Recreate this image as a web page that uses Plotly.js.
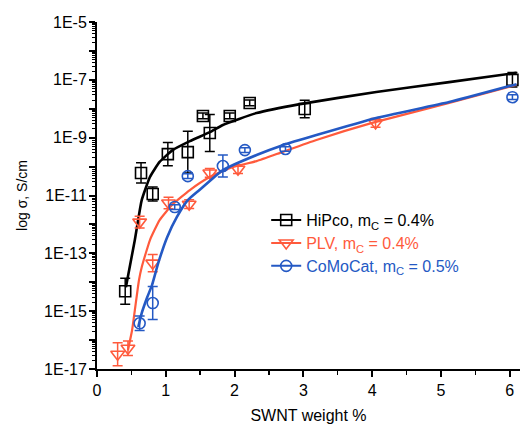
<!DOCTYPE html>
<html>
<head>
<meta charset="utf-8">
<script src="https://cdn.plot.ly/plotly-3.0.1.min.js"></script>
<style>html,body{margin:0;padding:0;background:#fff;}#chart{width:526px;height:424px;}</style>
</head>
<body>
<div id="chart"></div>
<script>
// ---- data (log10 of sigma, S/cm) ----
const hipcoX      = [0.41, 0.64, 0.81, 1.03, 1.32, 1.54, 1.64, 1.93, 2.22, 3.02, 6.04];
const hipcoLog    = [-14.31, -10.22, -10.95, -9.57, -9.50, -8.25, -8.84, -8.25, -7.80, -8.01, -7.00];
const hipcoErrDec = [0.45, 0.35, 0.24, 0.40, 0.72, 0.10, 0.64, 0.10, 0.10, 0.30, 0.25];

const plvX      = [0.30, 0.45, 0.62, 0.81, 1.04, 1.34, 1.64, 2.05, 4.05];
const plvLog    = [-16.49, -16.28, -11.92, -13.34, -11.26, -11.30, -10.22, -10.09, -8.49];
const plvErrDec = [0.40, 0.25, 0.20, 0.30, 0.20, 0.15, 0.15, 0.15, 0.15];

const comoX      = [0.62, 0.81, 1.13, 1.32, 1.83, 2.15, 2.74, 6.04];
const comoLog    = [-15.42, -14.72, -11.40, -10.33, -9.98, -9.43, -9.39, -7.60];
const comoErrDec = [0.25, 0.57, 0.08, 0.08, 0.38, 0.08, 0.08, 0.08];

// fitted curves
const hipcoFitX   = [0.42, 0.55, 0.65, 0.77, 0.91, 1.10, 1.35, 1.64, 1.83, 2.32, 2.95, 4.06, 5.12, 6.10];
const hipcoFitLog = [-14.17, -12.54, -11.16, -10.36, -9.84, -9.43, -9.12, -8.81, -8.56, -8.15, -7.84, -7.42, -7.08, -6.76];

const plvFitX   = [0.45, 0.51, 0.55, 0.61, 0.65, 0.77, 0.91, 1.09, 1.35, 1.64, 1.97, 2.32, 2.70, 3.19, 4.00, 5.12, 6.10];
const plvFitLog = [-16.35, -15.66, -14.97, -13.93, -13.48, -12.54, -11.85, -11.33, -10.81, -10.36, -10.02, -9.81, -9.49, -9.08, -8.49, -7.80, -7.17];

const comoFitX   = [0.60, 0.65, 0.73, 0.80, 0.89, 1.02, 1.16, 1.32, 1.49, 1.83, 2.32, 2.70, 3.19, 4.06, 5.12, 6.10];
const comoFitLog = [-15.55, -15.07, -14.52, -14.10, -13.34, -12.44, -11.75, -11.16, -10.81, -10.12, -9.60, -9.26, -8.91, -8.32, -7.77, -7.15];

const yDecadeExp = [-17, -16, -15, -14, -13, -12, -11, -10, -9, -8, -7, -6, -5];
const yLabelExp  = [-17, -15, -13, -11, -9, -7, -5];
const xTickVals  = [0, 1, 2, 3, 4, 5, 6];

const seriesNames = ['HiPco, m<sub>C</sub> = 0.4%', 'PLV, m<sub>C</sub> = 0.4%', 'CoMoCat, m<sub>C</sub> = 0.5%'];

// ---- helpers ----
const lin = a => a.map(v => Math.pow(10, v));
const errPlus = (l, d) => l.map((v, i) => Math.pow(10, v + d[i]) - Math.pow(10, v));
const errMinus = (l, d) => l.map((v, i) => Math.pow(10, v) - Math.pow(10, v - d[i]));

const BLACK = '#000000', RED = '#ff5a3c', BLUE = '#2459c4';
const FONT = 'Liberation Sans, Arial, Helvetica, sans-serif';

function series(x, log, dec, fx, flog, color, symbol, msize, name, lw, legendId) {
  return [
    { x: x, y: lin(log), type: 'scatter', mode: 'markers', showlegend: false,
      marker: { symbol: symbol, size: msize, color: color, line: { color: color, width: 1.6 } },
      error_y: { type: 'data', symmetric: false, array: errPlus(log, dec), arrayminus: errMinus(log, dec),
                 color: color, thickness: 1.5, width: 5 } },
    { x: fx, y: lin(flog), type: 'scatter', mode: 'lines', showlegend: false,
      line: { color: color, width: lw, shape: 'spline', smoothing: 0.45 } },
    { x: [null], y: [null], type: 'scatter', mode: 'lines+markers', showlegend: true,
      yaxis: 'y2', legend: legendId, name: name,
      marker: { symbol: symbol, size: msize, color: color, line: { color: color, width: 1.6 } },
      line: { color: color, width: 2 } }
  ];
}

const data = [].concat(
  series(hipcoX, hipcoLog, hipcoErrDec, hipcoFitX, hipcoFitLog, BLACK, 'square-open', 11, seriesNames[0], 2.6, 'legend'),
  series(plvX, plvLog, plvErrDec, plvFitX, plvFitLog, RED, 'triangle-down-open', 12, seriesNames[1], 2.2, 'legend2'),
  series(comoX, comoLog, comoErrDec, comoFitX, comoFitLog, BLUE, 'circle-open', 11, seriesNames[2], 2.6, 'legend3')
);

function legendAt(y, color) {
  return { x: 0.40, y: y, xanchor: 'left', yanchor: 'middle', bgcolor: 'rgba(0,0,0,0)',
           font: { family: FONT, size: 16, color: color } };
}

const layout = {
  width: 526, height: 424,
  margin: { l: 97, r: 6, t: 22, b: 55 },
  paper_bgcolor: '#ffffff', plot_bgcolor: '#ffffff',
  font: { family: FONT, size: 16, color: '#000' },
  showlegend: true,
  legend: legendAt(0.429, BLACK),
  legend2: legendAt(0.363, RED),
  legend3: legendAt(0.297, BLUE),
  xaxis: {
    range: [0, 6.15], showgrid: false, zeroline: false,
    showline: true, linecolor: '#000', linewidth: 2,
    ticks: 'outside', ticklen: 6, tickwidth: 2, tickcolor: '#000',
    tickmode: 'array', tickvals: xTickVals, ticktext: xTickVals.map(String),
    tickfont: { family: FONT, size: 16 },
    minor: { ticks: 'outside', ticklen: 4, tickwidth: 1.5, dtick: 0.5, tickcolor: '#000', showgrid: false },
    title: { text: 'SWNT weight %', font: { family: FONT, size: 16 }, standoff: 26 }
  },
  yaxis: {
    type: 'log', range: [-17, -5], showgrid: false, zeroline: false,
    showline: true, linecolor: '#000', linewidth: 2,
    ticks: 'outside', ticklen: 6, tickwidth: 2, tickcolor: '#000',
    tickmode: 'array', tickvals: lin(yDecadeExp), showticklabels: false,
    minor: { ticks: 'outside', ticklen: 3, tickwidth: 1, dtick: 'D1', tickcolor: '#000', showgrid: false }
  },
  yaxis2: {
    type: 'log', range: [-17, -5], overlaying: 'y', side: 'left', anchor: 'x',
    showgrid: false, zeroline: false, showline: false,
    ticks: 'outside', ticklen: 6, tickwidth: 2, tickcolor: 'rgba(0,0,0,0)',
    tickmode: 'array', tickvals: lin(yLabelExp), ticktext: yLabelExp.map(e => '1E' + e),
    tickfont: { family: FONT, size: 16 },
    title: { text: 'log σ, S/cm', font: { family: FONT, size: 14 }, standoff: 13 }
  }
};

Plotly.newPlot('chart', data, layout, { displayModeBar: false, staticPlot: true });
</script>
</body>
</html>
